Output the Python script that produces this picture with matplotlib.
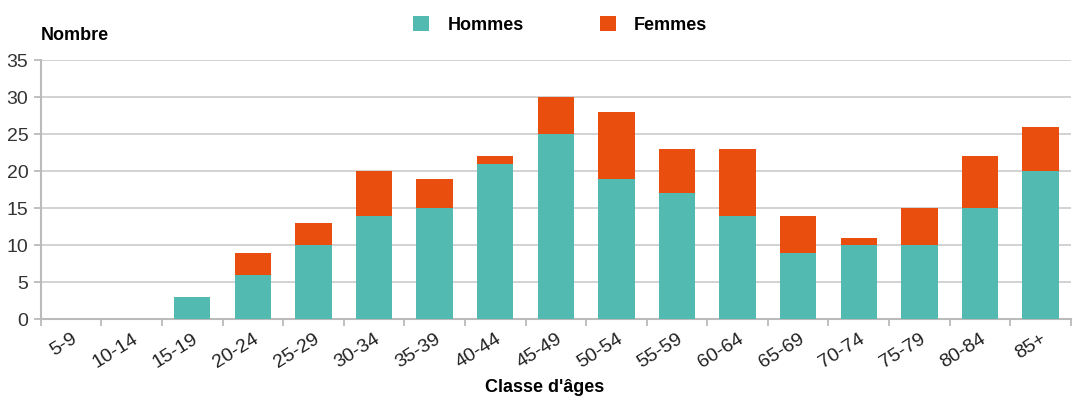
import matplotlib
matplotlib.use("Agg")
import matplotlib.pyplot as plt
import numpy as np

categories = ["5-9", "10-14", "15-19", "20-24", "25-29", "30-34", "35-39", "40-44",
              "45-49", "50-54", "55-59", "60-64", "65-69", "70-74", "75-79", "80-84", "85+"]
hommes = [0, 0, 3, 6, 10, 14, 15, 21, 25, 19, 17, 14, 9, 10, 10, 15, 20]
femmes = [0, 0, 0, 3, 3, 6, 4, 1, 5, 9, 6, 9, 5, 1, 5, 7, 6]
yticks = [0, 5, 10, 15, 20, 25, 30, 35]

teal = "#52BAB0"
orange = "#E94E0F"
grid = "#CFCFCF"

plt.rcParams['font.family'] = ['Liberation Sans', 'DejaVu Sans']

fig = plt.figure(figsize=(10.73, 4.01), dpi=100)
ax = fig.add_axes([0.038, 0.204, 0.96, 0.646])

x = np.arange(len(categories))
ax.bar(x, hommes, width=0.6, color=teal, label="Hommes", zorder=3)
ax.bar(x, femmes, width=0.6, bottom=hommes, color=orange, label="Femmes", zorder=3)

ax.set_ylim(0, 35)
ax.set_xlim(-0.5, len(categories) - 0.5)
ax.set_yticks(yticks)
ax.set_yticklabels([str(v) for v in yticks], fontsize=14, color="#333333")
ax.yaxis.grid(True, color=grid, linewidth=1.3, zorder=0)
ax.set_axisbelow(True)

ax.set_xticks(x)
ax.set_xticklabels(categories, rotation=32, fontsize=14, color="#222222",
                   ha="right", rotation_mode="anchor")
ax.tick_params(axis="x", length=0, pad=8)
ax.set_xticks(np.arange(-0.5, len(categories), 1.0), minor=True)
ax.tick_params(axis="x", which="minor", length=5, color="#BBBBBB", width=1.3)
ax.tick_params(axis="y", length=5, color="#BBBBBB", width=1.3, pad=4)

for s in ["top", "right"]:
    ax.spines[s].set_visible(False)
for s in ["left", "bottom"]:
    ax.spines[s].set_color("#BBBBBB")
    ax.spines[s].set_linewidth(1.5)

fig.text(0.038, 0.89, "Nombre", fontsize=13, fontweight="bold", ha="left", va="bottom")
fig.text(0.508, 0.012, "Classe d'âges", fontsize=13, fontweight="bold", ha="center", va="bottom")

fig.legend(loc="upper center", bbox_to_anchor=(0.522, 1.0), ncol=2, frameon=False,
           handlelength=0.9, handleheight=0.9, columnspacing=4.2,
           handletextpad=1.0, prop={'weight': 'bold', 'size': 13})

fig.savefig("out.png", dpi=100)
